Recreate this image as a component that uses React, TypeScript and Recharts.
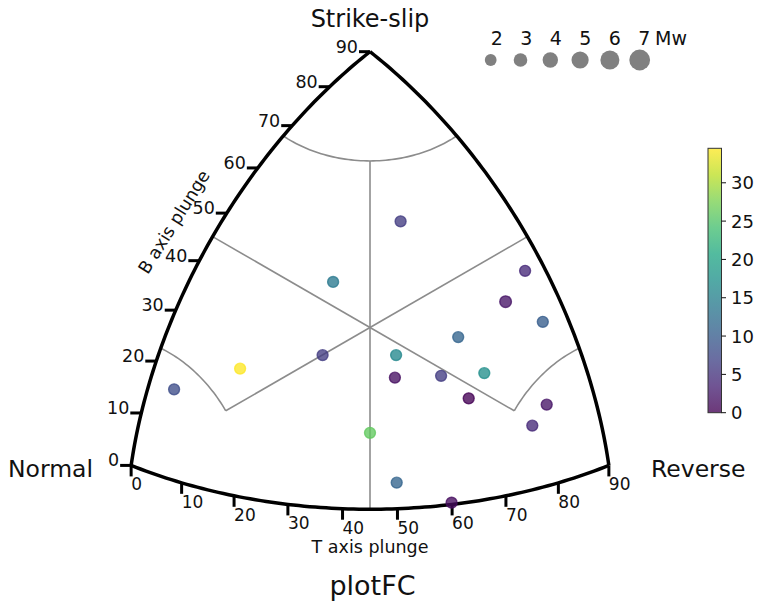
import React from 'react';
import { ScatterChart, Scatter, XAxis, YAxis } from 'recharts';

// events: position in the diagram (projection units), depth (km) and magnitude
const eventX = [0.102, -0.123, 0.517, 0.452, 0.576, 0.294, -0.158, 0.087, 0.083, 0.237, 0.381, 0.329, 0.589, 0.541, -0.433, -0.653, 0.0, 0.089, 0.272];
const eventY = [0.354, 0.152, 0.189, 0.086, 0.019, -0.032, -0.092, -0.092, -0.167, -0.161, -0.152, -0.236, -0.257, -0.327, -0.137, -0.206, -0.351, -0.517, -0.584];
const eventDepth = [6, 14, 4, 2, 10, 11, 6, 16, 1.5, 6, 17, 0, 2, 4, 34.5, 8, 26, 11, 1];
const eventMw = [2.3, 2.3, 2.3, 2.7, 2.3, 2.3, 2.3, 2.3, 2.3, 2.3, 2.3, 2.3, 2.3, 2.3, 2.3, 2.3, 2.3, 2.3, 2.3];

const MW_LEGEND = [2, 3, 4, 5, 6, 7];
const DEPTH_TICKS = [0, 5, 10, 15, 20, 25, 30];
const DEPTH_MAX = 34.5;
const PLUNGE_TICKS = [0, 10, 20, 30, 40, 50, 60, 70, 80, 90];
const CLASS_LIMIT = 67.5;

const W = 761;
const H = 602;
const FONT = 'DejaVu Sans';

// view window in projection units (300 px per unit)
const XMIN = -370 / 300;
const XMAX = 391 / 300;
const YMIN = -274.5 / 300;
const YMAX = 327.5 / 300;

const VIRIDIS = ['#440154', '#482475', '#414487', '#355f8d', '#2a788e', '#21918c', '#22a884', '#44bf70', '#7ad151', '#bddf26', '#fde725'];

function hexToRgb(h: string) {
  return [1, 3, 5].map((i) => parseInt(h.slice(i, i + 2), 16));
}

function viridis(t: number) {
  const v = Math.max(0, Math.min(1, t)) * (VIRIDIS.length - 1);
  const i = Math.min(Math.floor(v), VIRIDIS.length - 2);
  const f = v - i;
  const a = hexToRgb(VIRIDIS[i]);
  const b = hexToRgb(VIRIDIS[i + 1]);
  const c = a.map((x, k) => Math.round(x + (b[k] - x) * f));
  return `rgb(${c[0]},${c[1]},${c[2]})`;
}

const rad = (d: number) => (d * Math.PI) / 180;

// Kaverina projection from sines of the T, B, P plunges
function kave(zt: number, zb: number, zp: number) {
  const L = 2 * Math.sin(0.5 * Math.acos(Math.min(1, (zt + zb + zp) / Math.sqrt(3))));
  const N = Math.sqrt(2 * ((zb - zp) ** 2 + (zb - zt) ** 2 + (zt - zp) ** 2));
  if (N < 1e-9) return { x: 0, y: 0 };
  const k = L / N;
  return { x: Math.sqrt(3) * k * (zt - zp), y: k * (2 * zb - zp - zt) };
}

const range = (a: number, b: number, n: number) => Array.from({ length: n + 1 }, (_, i) => a + ((b - a) * i) / n);

const leftEdge = range(0, 90, 90).map((b) => kave(0, Math.sin(rad(b)), Math.cos(rad(b))));
const bottomEdge = range(0, 90, 90).map((t) => kave(Math.sin(rad(t)), 0, Math.cos(rad(t))));
const rightEdge = range(0, 90, 90).map((b) => kave(Math.cos(rad(b)), Math.sin(rad(b)), 0));

const sL = Math.sin(rad(CLASS_LIMIT));
const cL = Math.cos(rad(CLASS_LIMIT));
const topArc = range(0, 90, 60).map((f) => kave(cL * Math.sin(rad(f)), sL, cL * Math.cos(rad(f))));
const normalArc = range(0, 45, 30).map((f) => kave(cL * Math.sin(rad(f)), cL * Math.cos(rad(f)), sL));
const reverseArc = range(0, 45, 30).map((f) => kave(sL, cL * Math.cos(rad(f)), cL * Math.sin(rad(f))));

const center = { x: 0, y: 0 };
const h = Math.SQRT1_2;
const classLines = [
  [center, kave(0, h, h)],
  [center, kave(h, h, 0)],
  [center, kave(cL * h, cL * h, sL)],
  [center, kave(sL, cL * h, cL * h)],
  [kave(cL * h, sL, cL * h), kave(h, 0, h)],
];

const bTicks = PLUNGE_TICKS.map((b) => ({ ...kave(0, Math.sin(rad(b)), Math.cos(rad(b))), label: String(b) }));
const tTicks = PLUNGE_TICKS.map((t) => ({ ...kave(Math.sin(rad(t)), 0, Math.cos(rad(t))), label: String(t) }));

const events = eventX.map((x, i) => ({ x, y: eventY[i], depth: eventDepth[i], mw: eventMw[i] }));

const mwRadius = (mw: number) => 5.9 + 0.9 * (mw - 2);

const Nothing = () => <g />;

const BTick = (props: any) => {
  const { cx, cy, payload } = props;
  return (
    <g>
      <line x1={cx} y1={cy} x2={cx - 11} y2={cy} stroke="#000" strokeWidth={3} />
      <text x={cx - 12} y={cy + 1} textAnchor="end" fontFamily={FONT} fontSize={17.5} fill="#111">
        {payload.label}
      </text>
    </g>
  );
};

const TTick = (props: any) => {
  const { cx, cy, payload } = props;
  return (
    <g>
      <line x1={cx} y1={cy} x2={cx} y2={cy + 11} stroke="#000" strokeWidth={3} />
      <text x={cx} y={cy + 25} textAnchor="start" fontFamily={FONT} fontSize={17} fill="#111">
        {payload.label}
      </text>
    </g>
  );
};

const EventDot = (props: any) => {
  const { cx, cy, payload } = props;
  const col = viridis(payload.depth / DEPTH_MAX);
  const r = mwRadius(payload.mw) - 0.7;
  return <circle cx={cx} cy={cy} r={r} fill={col} fillOpacity={0.78} stroke={col} strokeOpacity={0.78} strokeWidth={1.4} />;
};

function Overlay() {
  const cbX = 708;
  const cbTop = 148.3;
  const cbBottom = 412.7;
  const cbY = (v: number) => cbBottom - (v / DEPTH_MAX) * (cbBottom - cbTop);
  return (
    <svg width={W} height={H} style={{ position: 'absolute', left: 0, top: 0, pointerEvents: 'none' }}>
      <defs>
        <linearGradient id="viridisBar" x1="0" y1="1" x2="0" y2="0">
          {VIRIDIS.map((c, i) => (
            <stop key={i} offset={i / (VIRIDIS.length - 1)} stopColor={c} stopOpacity={0.78} />
          ))}
        </linearGradient>
      </defs>
      <g fontFamily={FONT} fill="#111">
        <text x={370} y={27} textAnchor="middle" fontSize={24}>Strike-slip</text>
        <text x={8} y={476.5} fontSize={23.5}>Normal</text>
        <text x={651} y={476.5} fontSize={23.5}>Reverse</text>
        <text x={370} y={553} textAnchor="middle" fontSize={17.5}>T axis plunge</text>
        <text x={372.5} y={595} textAnchor="middle" fontSize={27}>plotFC</text>
        <text x={174} y={222} textAnchor="middle" dominantBaseline="central" fontSize={17.5} transform="rotate(-58 174 222)">
          B axis plunge
        </text>
      </g>
      <rect x={cbX} y={cbTop} width={13.5} height={cbBottom - cbTop} fill="url(#viridisBar)" stroke="#333" strokeWidth={1} />
      {DEPTH_TICKS.map((v) => (
        <g key={v}>
          <line x1={cbX + 13.5} y1={cbY(v)} x2={cbX + 18} y2={cbY(v)} stroke="#111" strokeWidth={1} />
          <text x={731} y={cbY(v) + 6.5} fontFamily={FONT} fontSize={18} fill="#111">{v}</text>
        </g>
      ))}
      {MW_LEGEND.map((m, i) => (
        <g key={m}>
          <circle cx={490.7 + i * 29.8} cy={60} r={mwRadius(m)} fill="#808080" />
          <text x={496.7 + i * 29.5} y={45} textAnchor="middle" fontFamily={FONT} fontSize={19} fill="#111">{m}</text>
        </g>
      ))}
      <text x={655} y={45} fontFamily={FONT} fontSize={19} fill="#111">Mw</text>
    </svg>
  );
}

export default function App() {
  return (
    <div style={{ position: 'absolute', left: 0, top: 0, width: W, height: H, background: '#fff' }}>
      <ScatterChart width={W} height={H} margin={{ top: 0, right: 0, bottom: 0, left: 0 }}>
        <XAxis type="number" dataKey="x" domain={[XMIN, XMAX]} allowDataOverflow hide />
        <YAxis type="number" dataKey="y" domain={[YMIN, YMAX]} allowDataOverflow hide />
        {[topArc, normalArc, reverseArc, ...classLines].map((seg, i) => (
          <Scatter
            key={`cls-${i}`}
            data={seg}
            line={{ stroke: '#8c8c8c', strokeWidth: 1.6, fill: 'none' }}
            shape={Nothing}
            isAnimationActive={false}
          />
        ))}
        {[leftEdge, bottomEdge, rightEdge].map((seg, i) => (
          <Scatter
            key={`edge-${i}`}
            data={seg}
            line={{ stroke: '#000', strokeWidth: 3.5, fill: 'none' }}
            shape={Nothing}
            isAnimationActive={false}
          />
        ))}
        <Scatter data={bTicks} shape={BTick} isAnimationActive={false} />
        <Scatter data={tTicks} shape={TTick} isAnimationActive={false} />
        <Scatter data={events} shape={EventDot} isAnimationActive={false} />
      </ScatterChart>
      <Overlay />
    </div>
  );
}
